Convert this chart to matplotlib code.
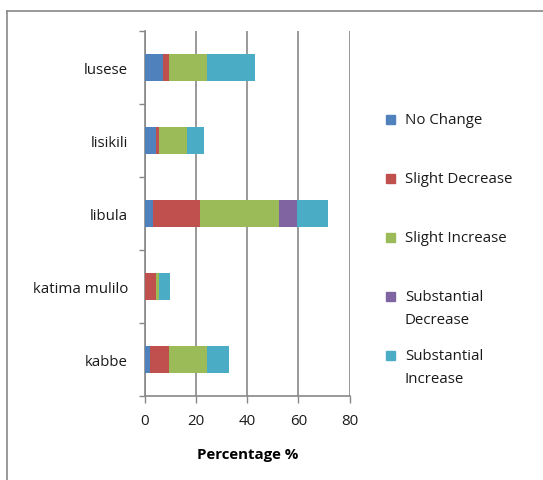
import matplotlib
matplotlib.use("Agg")
from matplotlib import pyplot as plt
from matplotlib.lines import Line2D
from matplotlib.patches import Rectangle
import numpy as np

plt.rcParams["font.family"] = ["Open Sans", "DejaVu Sans"]

# categories bottom to top
towns = ["kabbe", "katima mulilo", "libula", "lisikili", "lusese"]
series = ["No Change", "Slight Decrease", "Slight Increase",
          "Substantial\nDecrease", "Substantial\nIncrease"]
colors = ["#4F81BD", "#C0504D", "#9BBB59", "#8064A2", "#4BACC6"]

no_change = [1.9, 0.0, 3.1, 4.3, 7.3]
slight_dec = [7.6, 4.3, 18.3, 1.2, 2.2]
slight_inc = [14.8, 1.2, 31.0, 10.9, 14.8]
subst_dec = [0.0, 0.0, 6.9, 0.0, 0.0]
subst_inc = [8.6, 4.5, 12.4, 6.7, 18.8]
values = [no_change, slight_dec, slight_inc, subst_dec, subst_inc]

fig = plt.figure(figsize=(5.43, 4.81), dpi=100)
ax = fig.add_axes([0.2665, 0.1746, 0.3775, 0.759])

y = np.arange(len(towns))
left = np.zeros(len(towns))
for vals, col in zip(values, colors):
    ax.barh(y, vals, left=left, height=0.38, color=col, zorder=3)
    left += np.array(vals)

fs = 10.8
ax.set_xlim(0, 80)
ax.set_ylim(-0.5, len(towns) - 0.5)
ax.set_xticks([0, 20, 40, 60, 80])
ax.set_yticks(y)
ax.set_yticklabels(towns)
ax.set_yticks(np.arange(-0.5, len(towns)), minor=True)
ax.tick_params(axis="y", which="major", length=0, pad=12, labelsize=fs, colors="#1a1a1a")
ax.tick_params(axis="y", which="minor", length=4, width=1, color="#878787")
ax.tick_params(axis="x", length=5, width=1, color="#878787", pad=7, labelsize=fs, labelcolor="#1a1a1a")
ax.grid(axis="x", color="#878787", linewidth=1.2, zorder=0)
for s in ["top", "right"]:
    ax.spines[s].set_visible(False)
for s in ["left", "bottom"]:
    ax.spines[s].set_color("#878787")
    ax.spines[s].set_linewidth(1.2)
ax.set_xlabel("Percentage %", fontweight="bold", fontsize=fs, labelpad=14)

# legend drawn by hand to mimic the spreadsheet layout
leg_y = [120, 179, 238, 297, 356]
for name, col, ly in zip(series, colors, leg_y):
    fy = 1 - ly / 481
    fig.patches.append(Rectangle((386 / 543, fy - 4.5 / 481), 9 / 543, 9 / 481,
                                 transform=fig.transFigure, color=col))
    fig.text(405 / 543, fy + 7 / 481, name, fontsize=fs, va="top", ha="left",
             linespacing=1.75, color="#1a1a1a")

# outer chart frame (left and top edges visible)
fig.add_artist(Line2D([7 / 543, 7 / 543], [0, 1 - 12 / 481], color="#888888", lw=1.2))
fig.add_artist(Line2D([7 / 543, 1], [1 - 12 / 481, 1 - 12 / 481], color="#888888", lw=1.2))

fig.savefig("out.png", dpi=100)
